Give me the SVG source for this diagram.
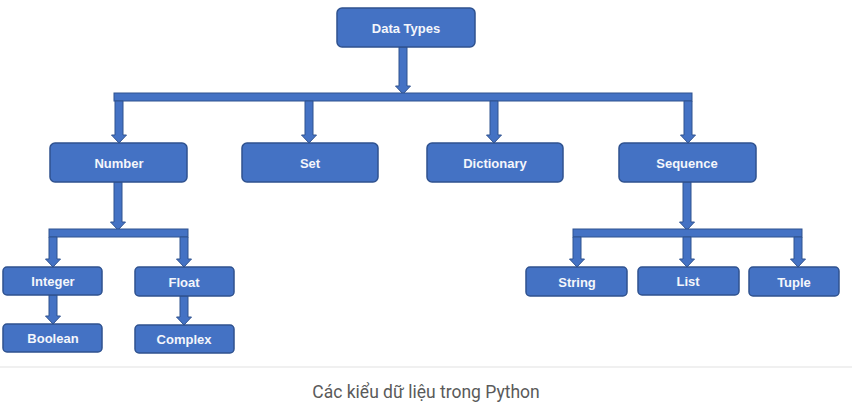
<svg xmlns="http://www.w3.org/2000/svg" width="852" height="412" viewBox="0 0 852 412">
<style>
.box{fill:#4472C4;stroke:#2F528F;stroke-width:1.5}
.lbl{font-family:"Liberation Sans",Arial,sans-serif;font-weight:bold;font-size:13px;fill:#F4F6FB;text-anchor:middle;dominant-baseline:central}
.con{fill:#4472C4;stroke:#2F528F;stroke-width:1}
.cap{font-family:Roboto,"Liberation Sans",sans-serif;font-size:17.5px;fill:#5a5a5a;text-anchor:middle}
</style>
<rect x="0" y="0" width="852" height="412" fill="#ffffff"/>
<g id="connectors">
  <polygon class="con" points="399,47 407,47 407,86 410.5,86 403,94 395.5,86 399,86"/>
  <rect class="con" x="114" y="93" width="578" height="8"/>
  <polygon class="con" points="115,101 123,101 123,135 126.5,135 119,143 111.5,135 115,135"/>
  <polygon class="con" points="305,101 313,101 313,135 316.5,135 309,143 301.5,135 305,135"/>
  <polygon class="con" points="490,101 498,101 498,135 501.5,135 494,143 486.5,135 490,135"/>
  <polygon class="con" points="684,101 692,101 692,135 695.5,135 688,143 680.5,135 684,135"/>
  <polygon class="con" points="114,182 122,182 122,222 125.5,222 118,230 110.5,222 114,222"/>
  <rect class="con" x="49" y="229" width="139" height="8"/>
  <polygon class="con" points="49,237 57,237 57,259 60.5,259 53,267 45.5,259 49,259"/>
  <polygon class="con" points="180,237 188,237 188,259 191.5,259 184,267 176.5,259 180,259"/>
  <polygon class="con" points="49,295 57,295 57,316 60.5,316 53,324 45.5,316 49,316"/>
  <polygon class="con" points="180,296 188,296 188,317 191.5,317 184,325 176.5,317 180,317"/>
  <polygon class="con" points="683,182 691,182 691,222 694.5,222 687,230 679.5,222 683,222"/>
  <rect class="con" x="573" y="229" width="229" height="8"/>
  <polygon class="con" points="573,237 581,237 581,259 584.5,259 577,267 569.5,259 573,259"/>
  <polygon class="con" points="683,237 691,237 691,259 694.5,259 687,267 679.5,259 683,259"/>
  <polygon class="con" points="794,237 802,237 802,259 805.5,259 798,267 790.5,259 794,259"/>
</g>
<g id="datatypes"><rect class="box" x="337" y="8" width="138" height="39" rx="5"/><text class="lbl" x="406" y="28">Data Types</text></g>
<g id="number"><rect class="box" x="50" y="143" width="137" height="39" rx="5"/><text class="lbl" x="119" y="163">Number</text></g>
<g id="set"><rect class="box" x="242" y="143" width="136" height="39" rx="5"/><text class="lbl" x="310" y="163">Set</text></g>
<g id="dictionary"><rect class="box" x="427" y="143" width="136" height="39" rx="5"/><text class="lbl" x="495" y="163">Dictionary</text></g>
<g id="sequence"><rect class="box" x="619" y="143" width="137" height="39" rx="5"/><text class="lbl" x="687" y="163">Sequence</text></g>
<g id="integer"><rect class="box" x="3" y="267" width="99" height="28" rx="4"/><text class="lbl" x="53" y="281">Integer</text></g>
<g id="float"><rect class="box" x="135" y="267" width="99" height="29" rx="4"/><text class="lbl" x="184" y="282">Float</text></g>
<g id="boolean"><rect class="box" x="3" y="324" width="99" height="28" rx="4"/><text class="lbl" x="53" y="338">Boolean</text></g>
<g id="complex"><rect class="box" x="135" y="325" width="99" height="28" rx="4"/><text class="lbl" x="184" y="339">Complex</text></g>
<g id="string"><rect class="box" x="526" y="267" width="101" height="29" rx="4"/><text class="lbl" x="577" y="282">String</text></g>
<g id="list"><rect class="box" x="638" y="267" width="101" height="28" rx="4"/><text class="lbl" x="688" y="281">List</text></g>
<g id="tuple"><rect class="box" x="749" y="267" width="90" height="29" rx="4"/><text class="lbl" x="794" y="282">Tuple</text></g>
<line x1="0" y1="367" x2="852" y2="367" stroke="#ebebeb" stroke-width="1.5"/>
<text class="cap" x="426" y="398">Các kiểu dữ liệu trong Python</text>
</svg>
